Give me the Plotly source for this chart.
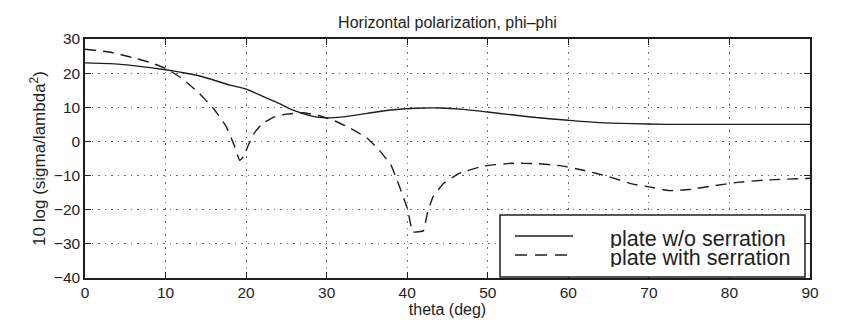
import plotly.graph_objects as go

# Solid: plate without serration
theta_a = [0, 3, 6, 10, 14, 18, 20, 22, 24, 26, 28, 30, 32, 35, 38, 41, 44, 47, 50, 53, 56, 60, 64, 68, 72, 80, 90]
rcs_a = [23.0, 22.8, 22.2, 21.0, 19.3, 16.5, 15.3, 13.3, 11.2, 9.0, 7.5, 6.9, 7.2, 8.2, 9.2, 9.7, 9.8, 9.4, 8.6,
         7.8, 7.0, 6.2, 5.5, 5.2, 5.0, 5.0, 5.0]

# Dashed: plate with serration
theta_b = [0, 3, 6, 8, 10, 12, 14, 16, 17.5, 18.5, 19.2, 19.7, 20.2, 21, 22, 23.5, 25, 27, 29, 31, 33, 35, 36.5,
           38, 39, 40, 40.7, 42, 42.5, 43.2, 44.5, 46.5, 49.5, 53, 56, 59, 62, 65, 68, 70, 72.5, 75, 78, 81, 84.5, 90]
rcs_b = [27.0, 26.2, 24.5, 23.2, 21.4, 18.5, 14.5, 9.5, 4.5, -1.0, -5.5, -4.5, -1.5, 2.4, 5.2, 7.2, 8.0, 8.4, 7.6,
         6.0, 3.8, 1.0, -2.5, -7.0, -13.0, -19.5, -26.5, -26.2, -21.0, -16.2, -12.3, -9.3, -7.2, -6.4, -6.5, -7.1,
         -8.5, -10.3, -12.5, -13.3, -14.4, -14.1, -13.0, -12.0, -11.3, -10.8]

series_names = ["plate w/o serration", "plate with serration"]

x_ticks = [0, 10, 20, 30, 40, 50, 60, 70, 80, 90]
y_ticks = [-40, -30, -20, -10, 0, 10, 20, 30]

font = "Liberation Sans, Arial, sans-serif"
ink = "#1e1e1e"
dash_b = "11px,7px"

fig = go.Figure()
fig.add_trace(go.Scatter(x=theta_a, y=rcs_a, mode="lines", name=series_names[0], showlegend=False,
                         line=dict(color=ink, width=1.4, shape="spline", smoothing=0.6)))
fig.add_trace(go.Scatter(x=theta_b, y=rcs_b, mode="lines", name=series_names[1], showlegend=False,
                         line=dict(color=ink, width=1.4, dash=dash_b, shape="spline", smoothing=0.3)))

axis_common = dict(showline=True, linecolor=ink, linewidth=1.5, mirror="ticks", ticks="inside",
                   ticklen=6, tickcolor=ink, tickwidth=1.4, showgrid=True, gridcolor="#6a6a6a",
                   griddash="1.5px,5px", gridwidth=1.2, zeroline=False,
                   tickfont=dict(family=font, size=15.5, color=ink))

# Legend box (MATLAB-style), in plot-area paper coordinates
L, R, T, B = 85, 810, 39, 278
W, H = R - L, B - T
def px(x):
    return (x - L) / W
def py(y):
    return (B - y) / H

shapes = [
    dict(type="rect", xref="paper", yref="paper", x0=px(500), x1=px(805), y0=py(277), y1=py(215),
         fillcolor="white", line=dict(color=ink, width=1.5), layer="above"),
    dict(type="line", xref="paper", yref="paper", x0=px(515), x1=px(573), y0=py(236), y1=py(236),
         line=dict(color=ink, width=1.4), layer="above"),
    dict(type="line", xref="paper", yref="paper", x0=px(515), x1=px(567), y0=py(255), y1=py(255),
         line=dict(color=ink, width=1.4, dash="12px,8px"), layer="above"),
]
annotations = [
    dict(text=series_names[0], xref="paper", yref="paper", x=px(608), y=py(238), xanchor="left", yanchor="middle",
         showarrow=False, height=19, valign="middle", font=dict(family=font, size=21.5, color=ink)),
    dict(text=series_names[1], xref="paper", yref="paper", x=px(608), y=py(257), xanchor="left", yanchor="middle",
         showarrow=False, height=19, valign="middle", font=dict(family=font, size=21.5, color=ink)),
]

fig.update_layout(
    width=850, height=332,
    margin=dict(l=L, r=850 - R, t=T, b=332 - B),
    paper_bgcolor="white", plot_bgcolor="white",
    title=dict(text="Horizontal polarization, phi\u2013phi", x=(L + R) / 2 / 850, xanchor="center",
               y=1 - 22 / 332, yanchor="middle", font=dict(family=font, size=16, color=ink)),
    xaxis=dict(range=[0, 90], tickvals=x_ticks, **axis_common,
               title=dict(text="theta (deg)", font=dict(family=font, size=16, color=ink), standoff=2)),
    yaxis=dict(range=[-40, 30], tickvals=y_ticks, **axis_common,
               ticktext=[str(v).replace("-", "\u2212") for v in y_ticks],
               title=dict(text="10 log (sigma/lambda<sup>2</sup>)", font=dict(family=font, size=17, color=ink),
                          standoff=4)),
    showlegend=False,
    shapes=shapes,
    annotations=annotations,
)

fig.write_html("out.html")
